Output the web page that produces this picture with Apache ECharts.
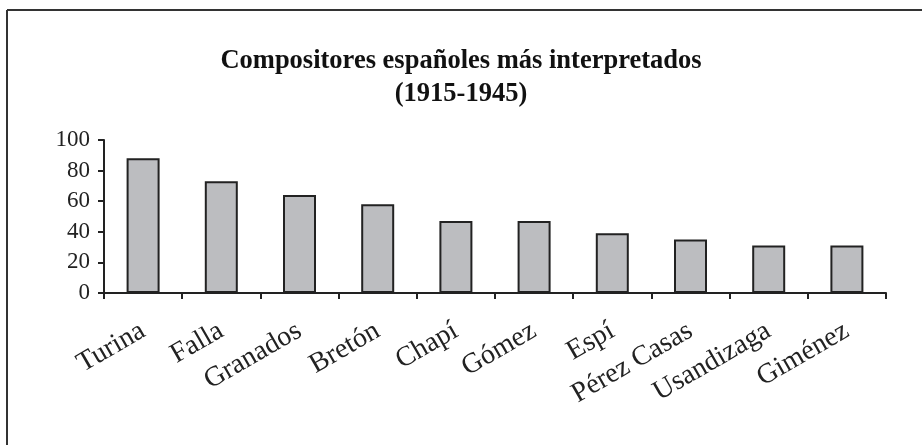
<!DOCTYPE html>
<html>
<head>
<meta charset="utf-8">
<script src="https://cdn.jsdelivr.net/npm/echarts@6/dist/echarts.min.js"></script>
<style>
  html, body { margin: 0; padding: 0; background: #fff; }
  #main { width: 922px; height: 445px; }
</style>
</head>
<body>
<div id="main"></div>
<script>
const composers = ['Turina', 'Falla', 'Granados', 'Bretón', 'Chapí', 'Gómez', 'Espí', 'Pérez Casas', 'Usandizaga', 'Giménez'];
const performances = [88, 73, 64, 58, 47, 47, 39, 35, 31, 31];
const yTicks = { min: 0, max: 100, interval: 20 };

const serif = '"Liberation Serif", "DejaVu Serif", serif';

const chart = echarts.init(document.getElementById('main'));
const option = {
  animation: false,
  backgroundColor: '#fff',
  title: {
    text: 'Compositores españoles más interpretados\n(1915-1945)',
    left: 'center',
    top: 40,
    textStyle: {
      fontFamily: serif,
      fontWeight: 'bold',
      fontSize: 26.5,
      lineHeight: 33,
      color: '#111',
    },
  },
  // frame lines at the top and left of the figure
  graphic: [
    { type: 'line', shape: { x1: 7, y1: 10, x2: 922, y2: 10 }, style: { stroke: '#333', lineWidth: 2 } },
    { type: 'line', shape: { x1: 7, y1: 10, x2: 7, y2: 445 }, style: { stroke: '#333', lineWidth: 2 } },
  ],
  grid: {
    left: 104,
    right: 36,
    top: 140,
    bottom: 152,
  },
  xAxis: {
    type: 'category',
    data: composers,
    axisLine: { lineStyle: { color: '#222', width: 2 } },
    axisTick: { show: true, length: 6, lineStyle: { color: '#222', width: 2 } },
    axisLabel: {
      rotate: 30,
      margin: 36,
      fontFamily: serif,
      fontSize: 28,
      color: '#222',
    },
  },
  yAxis: {
    type: 'value',
    min: yTicks.min,
    max: yTicks.max,
    interval: yTicks.interval,
    splitLine: { show: false },
    axisLine: { show: true, lineStyle: { color: '#222', width: 2 } },
    axisTick: { show: true, length: 6, lineStyle: { color: '#222', width: 2 } },
    axisLabel: {
      margin: 14,
      fontFamily: serif,
      fontSize: 23,
      color: '#222',
    },
  },
  series: [{
    type: 'bar',
    data: performances,
    barWidth: 33,
    itemStyle: {
      color: '#bcbdc0',
      borderColor: '#222',
      borderWidth: 2,
    },
  }],
};
chart.setOption(option);
</script>
</body>
</html>
